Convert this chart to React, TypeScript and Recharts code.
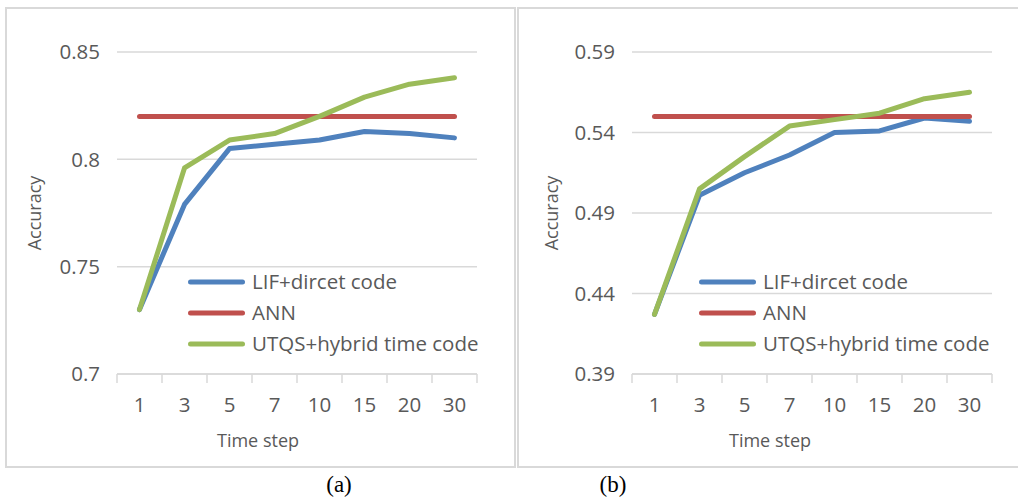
import { LineChart, Line, XAxis, YAxis, CartesianGrid, Legend } from 'recharts'

const TIME_STEPS = ['1', '3', '5', '7', '10', '15', '20', '30']
const SERIES_KEYS = ['lif', 'ann', 'utqs']

// (a)
const A_LIF = [0.73, 0.779, 0.805, 0.807, 0.809, 0.813, 0.812, 0.81]
const A_ANN = [0.82, 0.82, 0.82, 0.82, 0.82, 0.82, 0.82, 0.82]
const A_UTQS = [0.73, 0.796, 0.809, 0.812, 0.82, 0.829, 0.835, 0.838]
const A_TICKS = [0.7, 0.75, 0.8, 0.85]

// (b)
const B_LIF = [0.427, 0.501, 0.515, 0.526, 0.54, 0.541, 0.549, 0.547]
const B_ANN = [0.55, 0.55, 0.55, 0.55, 0.55, 0.55, 0.55, 0.55]
const B_UTQS = [0.427, 0.505, 0.525, 0.544, 0.548, 0.552, 0.561, 0.565]
const B_TICKS = [0.39, 0.44, 0.49, 0.54, 0.59]

const BLUE = '#4f81bd'
const RED = '#c0504d'
const GREEN = '#9bbb59'
const GRID = '#d9d9d9'
const TEXT = '#595959'
const FONT = '"Open Sans", "Noto Sans", sans-serif'
const TICK_SIZE = 9

const buildRows = (lif: number[], ann: number[], utqs: number[]) =>
  TIME_STEPS.map((label, i) => ({ x: i + 0.5, label, lif: lif[i], ann: ann[i], utqs: utqs[i] }))

// ticks at every category edge (tick mark) and centre (label), like Excel
const X_TICKS = Array.from({ length: TIME_STEPS.length * 2 + 1 }, (_, i) => i / 2)

// eslint-disable-next-line @typescript-eslint/no-explicit-any
function StepTick({ x, y, payload }: any) {
  const v = payload.value
  const axisY = y - TICK_SIZE
  if (Number.isInteger(v)) {
    return <line x1={x} x2={x} y1={axisY} y2={axisY + TICK_SIZE} stroke={GRID} strokeWidth={1.5} />
  }
  return (
    <text x={x} y={axisY + 38} textAnchor="middle" fontSize={20.5} fill={TEXT}>
      {TIME_STEPS[v - 0.5]}
    </text>
  )
}

// eslint-disable-next-line @typescript-eslint/no-explicit-any
function LegendBox({ payload }: any) {
  // recharts sorts legend items by name; keep series order instead
  const items = [...(payload || [])].sort(
    // eslint-disable-next-line @typescript-eslint/no-explicit-any
    (a: any, b: any) => SERIES_KEYS.indexOf(a.dataKey) - SERIES_KEYS.indexOf(b.dataKey),
  )
  return (
    <div style={{ fontFamily: FONT }}>
      {items.map((p: any) => (
        <div key={p.value} style={{ display: 'flex', alignItems: 'center', height: 31 }}>
          <svg width={57} height={8}>
            <line x1={2.5} x2={54.5} y1={4} y2={4} stroke={p.color} strokeWidth={5} strokeLinecap="round" />
          </svg>
          <span style={{ marginLeft: 7, fontSize: 20.5, color: TEXT, whiteSpace: 'nowrap', lineHeight: '31px' }}>
            {p.value}
          </span>
        </div>
      ))}
    </div>
  )
}

interface PanelProps {
  rows: ReturnType<typeof buildRows>
  ticks: number[]
  width: number
  right: number
  yWidth: number
  yLabelOffset: number
  xLabelDx: number
}

function Panel({ rows, ticks, width, right, yWidth, yLabelOffset, xLabelDx }: PanelProps) {
  return (
    <LineChart width={width} height={459} data={rows} margin={{ top: 44, right, bottom: 0, left: 0 }}>
      <CartesianGrid vertical={false} stroke={GRID} strokeWidth={1.5} />
      <XAxis
        dataKey="x"
        type="number"
        domain={[0, TIME_STEPS.length]}
        ticks={X_TICKS}
        interval={0}
        height={93}
        tickLine={false}
        tickSize={TICK_SIZE}
        tickMargin={0}
        axisLine={{ stroke: GRID, strokeWidth: 1.5 }}
        tick={StepTick}
        label={{ value: 'Time step', position: 'insideBottom', offset: 20, dx: xLabelDx, fontSize: 18, fill: TEXT }}
      />
      <YAxis
        type="number"
        domain={[ticks[0], ticks[ticks.length - 1]]}
        ticks={ticks}
        interval={0}
        width={yWidth}
        axisLine={false}
        tickLine={false}
        tickSize={8}
        tickMargin={9}
        tick={{ fontSize: 20.5, fill: TEXT }}
        label={{
          value: 'Accuracy', angle: -90, position: 'insideLeft', offset: yLabelOffset,
          fontSize: 18, fill: TEXT, style: { textAnchor: 'middle' },
        }}
      />
      <Legend
        layout="vertical"
        align="center"
        verticalAlign="middle"
        wrapperStyle={{ left: 182, top: 258, width: 'auto', height: 'auto' }}
        content={LegendBox}
      />
      <Line dataKey="lif" name="LIF+dircet code" stroke={BLUE} strokeWidth={5} strokeLinecap="round" strokeLinejoin="round" dot={false} isAnimationActive={false} />
      <Line dataKey="ann" name="ANN" stroke={RED} strokeWidth={5} strokeLinecap="round" strokeLinejoin="round" dot={false} isAnimationActive={false} />
      <Line dataKey="utqs" name="UTQS+hybrid time code" stroke={GREEN} strokeWidth={5} strokeLinecap="round" strokeLinejoin="round" dot={false} isAnimationActive={false} />
    </LineChart>
  )
}

const box = { position: 'absolute' as const, boxSizing: 'border-box' as const, top: 7, height: 461 }
const caption = {
  position: 'absolute' as const, top: 473, width: 60, textAlign: 'center' as const,
  fontFamily: '"Liberation Serif", "Times New Roman", serif', fontSize: 23, lineHeight: '23px', color: '#000',
}

export default function App() {
  return (
    <div style={{ position: 'absolute', left: 0, top: 0, width: 1018, height: 499, overflow: 'hidden', background: '#fff', fontFamily: FONT }}>
      <div style={{ ...box, left: 5, width: 511, border: `2px solid ${GRID}` }} />
      <div style={{ ...box, left: 517, width: 520, borderTop: `2px solid ${GRID}`, borderLeft: `2px solid ${GRID}`, borderBottom: `2px solid ${GRID}` }} />
      <div style={{ position: 'absolute', left: 6, top: 8 }}>
        <Panel rows={buildRows(A_LIF, A_ANN, A_UTQS)} ticks={A_TICKS} width={509} right={38} yWidth={111} yLabelOffset={29} xLabelDx={-39} />
      </div>
      <div style={{ position: 'absolute', left: 517, top: 8 }}>
        <Panel rows={buildRows(B_LIF, B_ANN, B_UTQS)} ticks={B_TICKS} width={501} right={26} yWidth={115} yLabelOffset={35} xLabelDx={-42} />
      </div>
      <div style={{ ...caption, left: 309 }}>(a)</div>
      <div style={{ ...caption, left: 583 }}>(b)</div>
    </div>
  )
}
